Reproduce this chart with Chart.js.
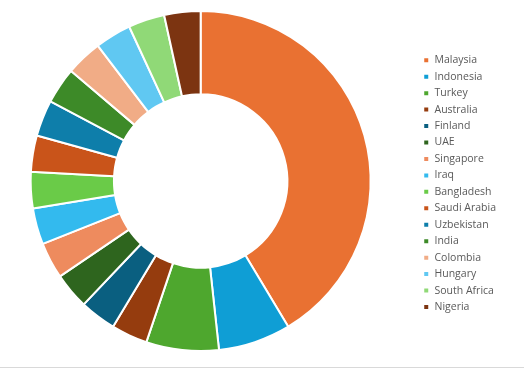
<!DOCTYPE html>
<html>
<head>
<meta charset="utf-8">
<script src="https://cdn.jsdelivr.net/npm/chart.js@4/dist/chart.umd.min.js"></script>
<style>
html,body{margin:0;padding:0;background:#fff;}
#wrap{position:relative;width:524px;height:369px;overflow:hidden;}
#c{position:absolute;left:-16px;top:0;}
#line{position:absolute;left:0;top:367px;width:524px;height:1px;background:#d9d9d9;}
</style>
</head>
<body>
<div id="wrap">
<canvas id="c" width="540" height="369"></canvas>
<div id="line"></div>
</div>
<script>
const categories = ["Malaysia","Indonesia","Turkey","Australia","Finland","UAE","Singapore","Iraq","Bangladesh","Saudi Arabia","Uzbekistan","India","Colombia","Hungary","South Africa","Nigeria"];
const values = [12,2,2,1,1,1,1,1,1,1,1,1,1,1,1,1];
const colors = ["#E97132","#0F9ED5","#4EA72E","#953C0E","#0A5F80","#2E651E","#EE8B5E","#33BAEE","#6ACB48","#C9541A","#0E7EAA","#3D8A28","#F1AC86","#60C8F2","#90D977","#7C3411"];

new Chart(document.getElementById('c'), {
  type: 'doughnut',
  data: {
    labels: categories,
    datasets: [{
      data: values,
      backgroundColor: colors,
      borderColor: '#ffffff',
      borderWidth: 2,
      hoverOffset: 0,
      offset: 0
    }]
  },
  options: {
    responsive: false,
    animation: false,
    devicePixelRatio: 1,
    cutout: '51%',
    layout: { padding: { top: 10, bottom: 17, left: 0, right: 18 } },
    plugins: {
      tooltip: { enabled: false },
      legend: {
        position: 'right',
        title: { display: true, text: ' ', font: { size: 1 }, padding: 2 },
        labels: {
          boxWidth: 6,
          boxHeight: 6,
          padding: 5.95,
          color: '#595959',
          font: { family: 'Open Sans', size: 10.5 }
        }
      }
    }
  }
});
</script>
</body>
</html>
